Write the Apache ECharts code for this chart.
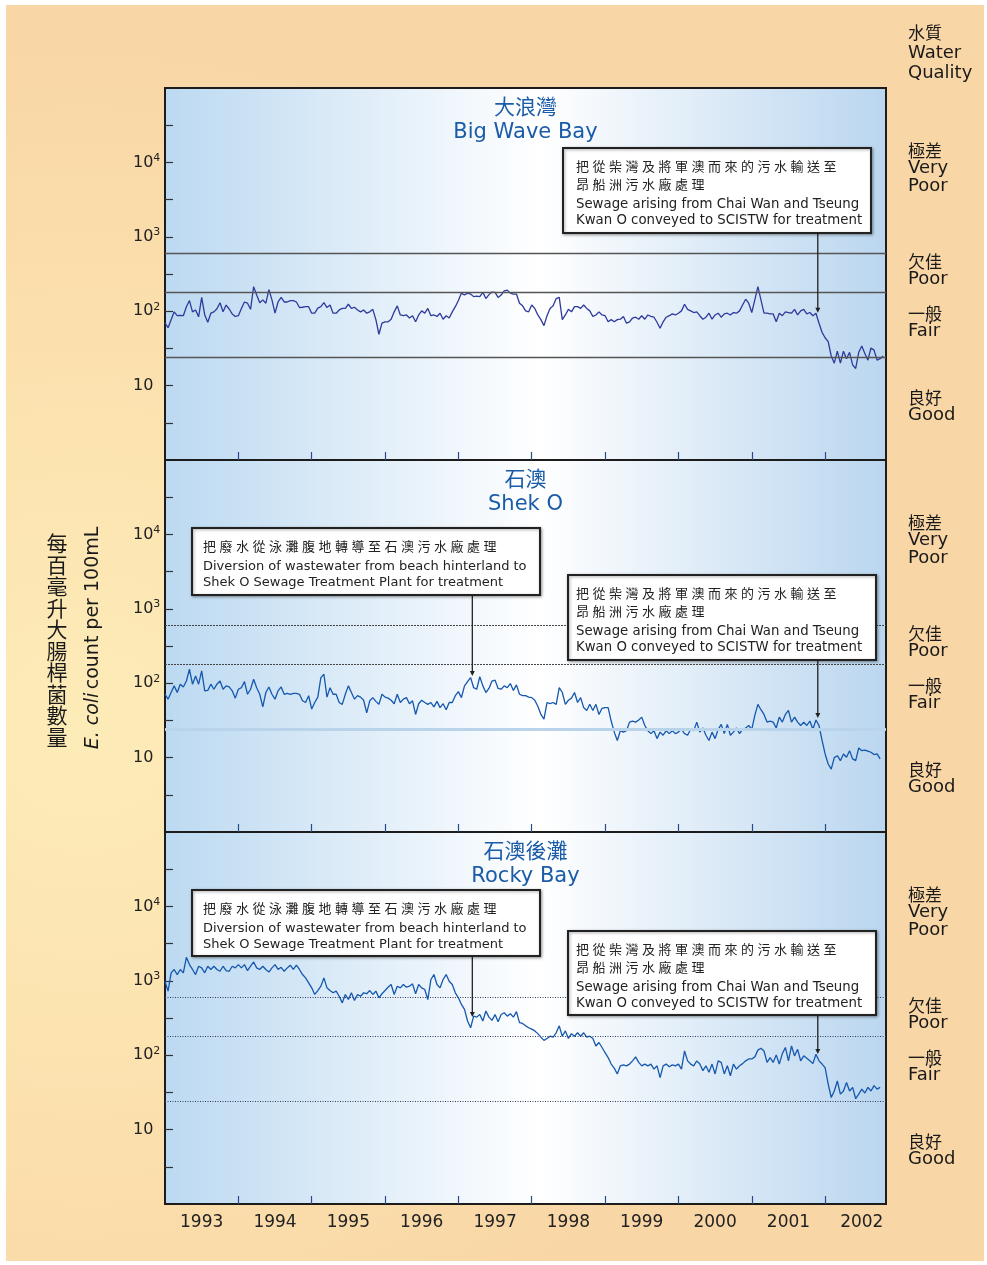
<!DOCTYPE html>
<html><head><meta charset="utf-8">
<script src="https://cdn.jsdelivr.net/npm/echarts@6/dist/echarts.min.js"></script>
<style>
html,body{margin:0;padding:0;background:#fff;width:987px;height:1265px;overflow:hidden;}
#frame{position:absolute;left:6px;top:5px;width:978px;height:1256px;
background:radial-gradient(ellipse 75% 55% at 8% 58%, #fdecb8 0%, #fce3b0 45%, #f9d6a6 100%);}
#chart{position:absolute;left:0;top:0;width:987px;height:1265px;}
</style></head><body><div id="frame"></div><div id="chart"></div>
<script>
// ---------------- data ----------------
const yearLabels = [1993,1994,1995,1996,1997,1998,1999,2000,2001,2002];
const startYear = 1993;
const endYear = 2002.83;
const stepYears = 1/24;          // half-monthly running values
const thresholds = [24, 180, 610];
const qualityZh = ['良好','一般','欠佳','極差'];
const qualityEn = ['Good','Fair','Poor','Very\nPoor'];
const panelZh = ['大浪灣','石澳','石澳後灘'];
const panelEn = ['Big Wave Bay','Shek O','Rocky Bay'];

const bigWaveBay = [69,60,77,98,87,88,87,115,139,98,104,84,
153,89,71,94,98,108,130,98,121,107,92,85,
87,109,133,128,106,214,165,130,142,128,195,142,
94,133,153,133,133,139,139,133,112,113,115,115,
94,94,110,115,130,112,121,94,94,104,109,109,
124,109,113,104,98,104,94,98,106,77,49,69,
72,72,78,98,118,89,87,89,81,87,72,89,
101,94,109,87,89,85,94,78,87,81,98,115,
139,175,165,175,170,157,160,157,179,148,167,181,
179,153,165,188,192,175,170,170,128,118,101,98,
121,109,89,77,64,87,109,118,148,153,77,89,
106,98,115,115,109,121,109,101,85,89,98,89,
87,72,77,72,77,78,85,69,72,81,83,78,
87,78,89,85,83,71,59,72,83,87,92,89,
94,101,124,106,101,96,98,87,78,83,94,78,
89,94,83,92,94,89,96,94,101,121,145,128,
96,142,214,142,94,94,92,92,72,94,87,98,
96,94,106,89,101,106,92,96,87,94,69,52,
44,39,25,20,29,20,29,23,28,19,17,28,
34,27,22,32,30,22,23,25];

const shekO = [71,61,75,92,75,97,89,107,154,97,125,97,
146,79,80,97,83,97,107,83,92,89,79,63,
83,87,105,71,83,113,87,71,48,75,89,71,
61,79,89,71,73,71,73,73,71,58,55,68,
45,55,65,119,132,65,87,71,71,55,52,71,
92,75,61,68,65,59,40,58,64,57,52,71,
65,63,59,53,71,55,61,64,53,58,38,53,
59,55,52,55,48,57,47,53,44,55,55,68,
77,64,92,105,119,87,83,122,92,75,85,107,
110,85,83,92,87,99,80,95,71,68,68,65,
64,59,49,38,33,55,53,55,52,87,75,52,
59,63,75,55,64,47,43,52,43,52,38,46,
47,47,31,22,17,23,22,23,30,31,30,32,
35,27,23,21,23,18,22,20,23,21,23,21,
22,24,21,20,24,23,30,22,25,20,17,22,
18,24,28,21,28,20,22,25,21,24,25,27,
24,37,52,44,38,30,31,30,25,35,30,38,
43,30,35,30,27,30,27,31,24,32,27,17,
11.2,8.2,7,10,10.6,9.1,11.2,10.1,12.4,9.6,9.1,13.5,
12.4,12.6,12.2,11.8,11,11.2,9.6];

const rockyBay = [988,726,1280,1420,1213,1420,1280,2070,1650,1420,1213,1570,
1490,1280,1570,1420,1570,1420,1343,1570,1370,1343,1570,1490,
1650,1490,1650,1370,1570,1790,1490,1420,1570,1420,1310,1490,
1650,1420,1520,1343,1490,1620,1420,1620,1420,1213,1094,940,
804,655,740,846,1094,804,740,690,726,620,505,655,
560,690,545,655,620,690,670,740,655,726,591,670,
740,820,891,655,846,804,891,820,846,910,670,891,
804,765,560,1040,1213,891,804,1040,1213,988,891,690,
591,481,412,288,234,335,325,353,288,392,325,294,
353,282,353,372,335,360,325,385,274,267,248,234,
224,212,195,175,158,168,180,175,200,248,180,212,
168,195,180,200,180,200,175,180,168,133,148,127,
108,93,76,67,56,72,74,72,76,84,95,80,
72,76,72,76,65,72,50,72,76,70,74,72,
76,65,114,84,76,72,84,76,62,72,59,76,
56,84,80,56,72,53,76,65,72,77,84,89,
89,95,117,124,114,80,93,80,101,76,105,127,
84,133,98,120,84,98,91,84,77,103,84,76,
68,41,27,33,45,30,33,43,33,37,26,30,
35,31,37,33,39,35,37];

const eventYears = [1997.19, 2001.90];
const eventZh = ['把廢水從泳灘腹地轉導至石澳污水廠處理', '把從柴灣及將軍澳而來的污水輸送至\n昂船洲污水廠處理'];
const eventEn = ['Diversion of wastewater from beach hinterland to\nShek O Sewage Treatment Plant for treatment',
                 'Sewage arising from Chai Wan and Tseung\nKwan O conveyed to SCISTW for treatment'];
// which events are annotated in each panel, and the value the arrow points to
const panelEvents = [[1], [0, 1], [0, 1]];
const panelEventTargets = [[95], [125, 34], [326, 104]];

// ---------------- layout / style ----------------
const LAT = "'DejaVu Sans', sans-serif";
const CJK = "'Noto Sans CJK TC', sans-serif";
const gridLeft = 165, gridWidth = 721, gridTops = [88, 460, 832], gridH = 372;
const seriesColors = ['#2e3a9c', '#1558ae', '#1558ae'];
const titleColor = '#1b5ca8';
const panelBg = {type:'linear', x:0, y:0, x2:1, y2:0, colorStops:[
  {offset:0, color:'#bcd9f1'}, {offset:0.52, color:'#ffffff'}, {offset:1, color:'#bad6ef'}]};
const limitStyles = [
  [{color:'#555', width:1.3, type:'solid'}, {color:'#555', width:1.3, type:'solid'}, {color:'#555', width:1.3, type:'solid'}],
  [{color:'#b9d4ea', width:3, type:'solid'}, {color:'#444', width:1, type:[2,1]}, {color:'#444', width:1, type:[2,1]}],
  [{color:'#2e3e60', width:1, type:[1,1.5]}, {color:'#2e3e60', width:1, type:[1,1.5]}, {color:'#2e3e60', width:1, type:[1,1.5]}]
];
// box rectangles [x, y, w, h, textLeft, englishFontSize] for each annotated event
const boxLayout = [
  [[563,148,308,85,576,13.3]],
  [[192,528,348,67,203,13],[568,575,308,85,576,13.3]],
  [[192,890,348,66,203,13],[568,931,308,84,576,13.3]]
];
const zhPitch = 16.5;

const datasets = [bigWaveBay, shekO, rockyBay];
const halfDecades = [];
for (let e = 0.5; e < 5; e += 0.5) halfDecades.push(Math.pow(10, e));
const decadeLabels = [10, 100, 1000, 10000];
const bandBounds = [1].concat(thresholds, [100000]);
const bandMids = qualityZh.map((_, i) => Math.sqrt(bandBounds[i] * bandBounds[i + 1]));

const grids = [], xAxes = [], yAxes = [], series = [];
for (let i = 0; i < 3; i++) {
  grids.push({left:gridLeft, top:gridTops[i], width:gridWidth, height:gridH, show:true,
    backgroundColor:panelBg, borderColor:'#1c1c1c', borderWidth:2});
  xAxes.push({type:'value', gridIndex:i, min:startYear, max:endYear,
    axisLine:{show:false}, splitLine:{show:false},
    axisTick:{show:true, inside:true, length:8, customValues:yearLabels.slice(1), lineStyle:{color:'#2a4c86', width:1.2}},
    axisLabel:{show:i===2, customValues:yearLabels.map(y => y + 0.5), formatter:v => String(Math.floor(v)),
      margin:10, fontSize:17, fontFamily:LAT, color:'#222'}});
}
for (let i = 0; i < 3; i++) {
  yAxes.push({type:'log', logBase:10, gridIndex:i, min:1, max:100000, position:'left',
    axisLine:{show:false}, splitLine:{show:false}, minorTick:{show:false},
    axisTick:{show:true, inside:true, length:8, customValues:halfDecades, lineStyle:{color:'#333', width:1.2}},
    axisLabel:{customValues:decadeLabels, align:'left', margin:32, color:'#222',
      formatter:v => { const n = Math.round(Math.log10(v)); return n === 1 ? '{b|10}' : '{b|10}{s|' + n + '}'; },
      rich:{b:{fontSize:16, fontFamily:LAT, color:'#222', lineHeight:20}, s:{fontSize:11, fontFamily:LAT, color:'#222', verticalAlign:'top', lineHeight:12}}}});
}
for (let i = 0; i < 3; i++) {
  yAxes.push({type:'log', logBase:10, gridIndex:i, min:1, max:100000, position:'right',
    axisLine:{show:false}, splitLine:{show:false}, axisTick:{show:false}, minorTick:{show:false},
    axisLabel:{customValues:bandMids, align:'left', margin:22, padding:[0,0,4,0],
      formatter:v => { let k = 0; bandMids.forEach((m, j) => { if (Math.abs(Math.log(m) - Math.log(v)) < Math.abs(Math.log(bandMids[k]) - Math.log(v))) k = j; });
        return '{z|' + qualityZh[k] + '}\n' + qualityEn[k].split('\n').map(t => '{e|' + t + '}').join('\n'); },
      rich:{z:{fontSize:17, fontFamily:CJK, color:'#1a1a1a', lineHeight:18}, e:{fontSize:18, fontFamily:LAT, color:'#1a1a1a', lineHeight:18}}}});
}
for (let i = 0; i < 3; i++) {
  const vals = datasets[i];
  series.push({type:'line', xAxisIndex:i, yAxisIndex:i, showSymbol:false, symbol:'none', animation:false,
    lineStyle:{color:seriesColors[i], width:1.3}, data:vals.map((v, k) => [startYear + k * stepYears, v]),
    markLine:{silent:true, symbol:['none','none'], label:{show:false}, animation:false,
      data:thresholds.map((t, j) => ({yAxis:t, lineStyle:limitStyles[i][j]}))}, z:3});
}

const chart = echarts.init(document.getElementById('chart'), null, {renderer:'canvas'});
chart.setOption({animation:false, backgroundColor:'transparent', grid:grids, xAxis:xAxes, yAxis:yAxes, series:series});

// ---------------- text & annotations ----------------
const g = [];
g.push({type:'text', left:908, top:24, style:{text:'水質', font:"17px 'Noto Sans CJK TC'", fill:'#1a1a1a'}});
g.push({type:'text', left:908, top:43, style:{text:'Water\nQuality', font:"18px 'DejaVu Sans'", lineHeight:20, fill:'#1a1a1a'}});
for (let i = 0; i < 3; i++) {
  g.push({type:'text', x:gridLeft + gridWidth / 2, y:gridTops[i] + 18, style:{text:panelZh[i], font:"21px 'Noto Sans CJK TC'", fill:titleColor, textAlign:'center', textVerticalAlign:'middle'}});
  g.push({type:'text', x:gridLeft + gridWidth / 2, y:gridTops[i] + 45, style:{text:panelEn[i], font:"21px 'DejaVu Sans'", fill:titleColor, textAlign:'center', textVerticalAlign:'middle'}});
  panelEvents[i].forEach((ev, j) => {
    const [bx, by, bw, bh, tx, efs] = boxLayout[i][j];
    const p = chart.convertToPixel({seriesIndex:i}, [eventYears[ev], panelEventTargets[i][j]]);
    g.push({type:'line', shape:{x1:p[0], y1:by + bh, x2:p[0], y2:p[1] - 3}, style:{stroke:'#222', lineWidth:1.3}, z:10});
    g.push({type:'polygon', shape:{points:[[p[0] - 2.5, p[1] - 5], [p[0] + 2.5, p[1] - 5], [p[0], p[1]]]}, style:{fill:'#222'}, z:10});
    g.push({type:'rect', shape:{x:bx, y:by, width:bw, height:bh}, style:{fill:'#fff', stroke:'#222', lineWidth:2,
      shadowBlur:3, shadowColor:'rgba(0,0,0,0.35)', shadowOffsetX:1, shadowOffsetY:1}, z:10});
    const zhLines = eventZh[ev].split('\n'), enLines = eventEn[ev].split('\n');
    let y = by + 18.5;
    zhLines.forEach(l => {
      Array.from(l).forEach((ch, c) => {
        g.push({type:'text', x:tx + c * zhPitch, y:y, style:{text:ch, font:"13px 'Noto Sans CJK TC'", fill:'#222', textVerticalAlign:'middle'}, z:11});
      });
      y += 18;
    });
    y += 2;
    enLines.forEach(l => { g.push({type:'text', x:tx, y:y, style:{text:l, font:efs + "px 'DejaVu Sans'", fill:'#222', textVerticalAlign:'middle'}, z:11}); y += 16; });
  });
}
// axis titles
g.push({type:'text', x:57, y:640, style:{text:Array.from('每百毫升大腸桿菌數量').join('\n'), font:"21px 'Noto Sans CJK TC'", lineHeight:21.5, fill:'#1a1a1a', textAlign:'center', textVerticalAlign:'middle'}});
g.push({type:'text', x:93, y:638, rotation:Math.PI / 2, style:{text:'{i|E. coli} {n|count per 100mL}', textAlign:'center', textVerticalAlign:'middle',
  rich:{i:{font:"italic 19px 'DejaVu Sans'", fill:'#1a1a1a'}, n:{font:"19px 'DejaVu Sans'", fill:'#1a1a1a'}}}});
chart.setOption({graphic:g});
</script></body></html>
